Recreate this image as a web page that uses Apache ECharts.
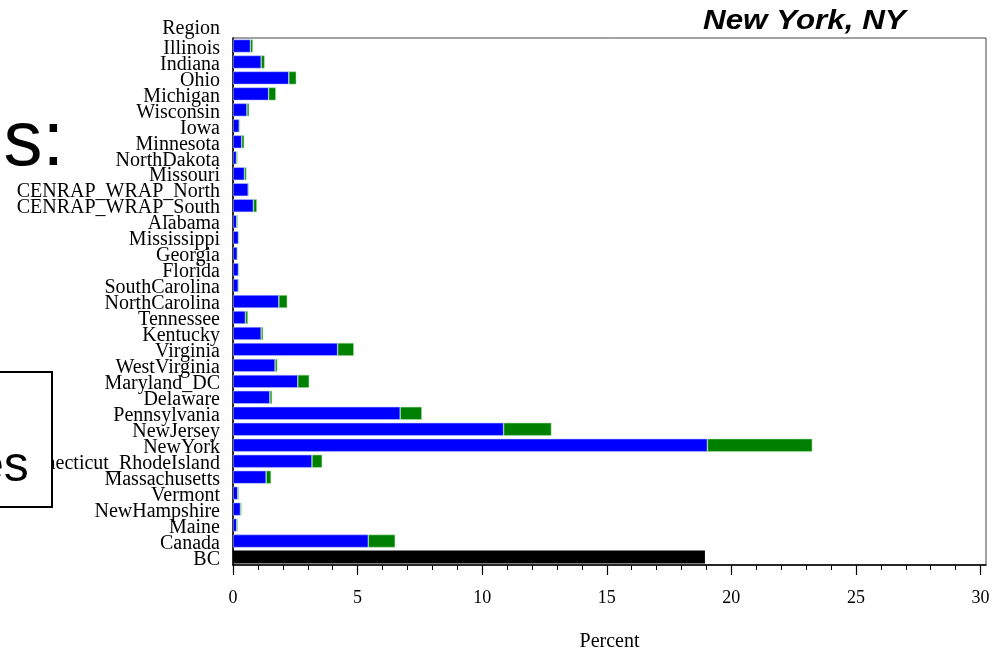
<!DOCTYPE html>
<html>
<head>
<meta charset="utf-8">
<script src="https://cdn.jsdelivr.net/npm/echarts@6/dist/echarts.min.js"></script>
<style>html,body{margin:0;padding:0;background:#fff;}#c{width:1008px;height:650px;}</style>
</head>
<body>
<div id="c"></div>
<script>
const categories = ["Illinois","Indiana","Ohio","Michigan","Wisconsin","Iowa","Minnesota","NorthDakota","Missouri","CENRAP_WRAP_North","CENRAP_WRAP_South","Alabama","Mississippi","Georgia","Florida","SouthCarolina","NorthCarolina","Tennessee","Kentucky","Virginia","WestVirginia","Maryland_DC","Delaware","Pennsylvania","NewJersey","NewYork","Connecticut_RhodeIsland","Massachusetts","Vermont","NewHampshire","Maine","Canada","BC"];
const blueValues = [0.70,1.13,2.24,1.43,0.56,0.25,0.35,0.14,0.46,0.61,0.82,0.15,0.22,0.17,0.22,0.21,1.84,0.50,1.13,4.20,1.69,2.60,1.48,6.71,10.86,19.04,3.17,1.33,0.19,0.30,0.15,5.43,null];
const greenValues = [0.10,0.14,0.30,0.29,0.09,0.03,0.10,0.04,0.08,0.03,0.14,0.04,0.02,0.02,0.02,0.03,0.34,0.10,0.08,0.65,0.09,0.46,0.09,0.87,1.92,4.21,0.41,0.20,0.04,0.04,0.04,1.08,null];
const bcValues = [null,null,null,null,null,null,null,null,null,null,null,null,null,null,null,null,null,null,null,null,null,null,null,null,null,null,null,null,null,null,null,null,18.94];
const xMajorTicks = [0,5,10,15,20,25,30];
const xMinorTicks = [0,1,2,3,4,5,6,7,8,9,10,11,12,13,14,15,16,17,18,19,20,21,22,23,24,25,26,27,28,29,30];
const titleText = "New York, NY";
const yName = "Region";
const xName = "Percent";

const serif = 'Liberation Serif';
const chart = echarts.init(document.getElementById('c'), null, {renderer:'canvas'});
const xMax = 30.22;
chart.setOption({
  animation:false,
  backgroundColor:'#fff',
  grid:{left:233,right:22,top:38,bottom:85,show:true,borderColor:'#444',borderWidth:1,containLabel:false,outerBoundsMode:'none'},
  xAxis:[{
    type:'value',min:0,max:xMax,position:'bottom',
    name:xName,nameLocation:'middle',nameGap:67,
    nameTextStyle:{fontFamily:serif,fontSize:20,color:'#000'},
    axisLine:{show:true,lineStyle:{color:'#000',width:1.5}},
    axisTick:{show:true,length:10,customValues:xMajorTicks,lineStyle:{color:'#000',width:1.2}},
    axisLabel:{show:true,customValues:xMajorTicks,margin:24,fontFamily:serif,fontSize:18,color:'#000'},
    splitLine:{show:false}
  },{
    type:'value',min:0,max:xMax,position:'bottom',gridIndex:0,offset:0,
    axisLine:{show:false},
    axisTick:{show:true,length:5,customValues:xMinorTicks,lineStyle:{color:'#000',width:1}},
    axisLabel:{show:false},
    splitLine:{show:false}
  }],
  yAxis:{
    type:'category',data:categories,inverse:true,
    name:yName,nameLocation:'start',nameGap:4,
    nameTextStyle:{fontFamily:serif,fontSize:20,color:'#000',align:'right',verticalAlign:'middle',padding:[10,13,0,0]},
    axisLine:{show:true,lineStyle:{color:'#000',width:1.5}},
    axisTick:{show:false},
    axisLabel:{margin:13,interval:0,formatter:'{a|{value}}',
      rich:{a:{fontFamily:serif,fontSize:20,color:'#000',padding:[5,0,0,0]}}},
    splitLine:{show:false}
  },
  series:[
    {type:'bar',stack:'s',data:blueValues,barWidth:13,itemStyle:{color:'#0000ff',borderColor:'rgba(190,200,255,0.9)',borderWidth:0.6}},
    {type:'bar',stack:'s',data:greenValues,barWidth:13,itemStyle:{color:'#008000',borderColor:'rgba(170,230,170,0.9)',borderWidth:0.6}},
    {type:'bar',stack:'s',data:bcValues,barWidth:13,itemStyle:{color:'#000'}}
  ],
  graphic:[
    {type:'text',x:703,y:7,scaleX:1.12,z:100,style:{text:titleText,font:'italic bold 28px "Liberation Sans"',fill:'#000'}},
    {type:'text',x:-40,y:104,z:100,style:{text:'es:',font:'78px "Liberation Sans"',fill:'#000'}},
    {type:'rect',z:100,shape:{x:-10,y:372,width:62,height:135},style:{fill:'#fff',stroke:'#000',lineWidth:2}},
    {type:'text',x:-24,y:442,z:101,style:{text:'es',font:'50px "Liberation Sans"',fill:'#000'}}
  ]
});
</script>
</body>
</html>
